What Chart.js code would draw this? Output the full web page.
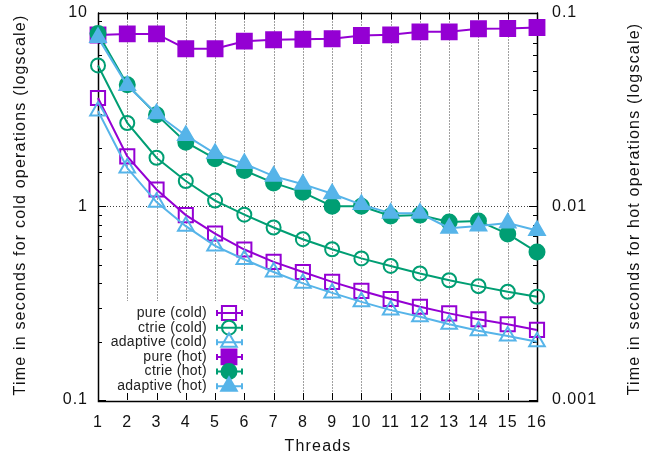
<!DOCTYPE html>
<html>
<head>
<meta charset="utf-8">
<script src="https://cdn.jsdelivr.net/npm/chart.js@4"></script>
<style>
  html, body { margin: 0; padding: 0; background: #fff; }
  #wrap { width: 656px; height: 459px; }
</style>
</head>
<body>
<div id="wrap"><canvas id="myChart" width="656" height="459"></canvas></div>
<script>
// data
const threads = [1, 2, 3, 4, 5, 6, 7, 8, 9, 10, 11, 12, 13, 14, 15, 16];
const pureCold = [3.62, 1.81, 1.22, 0.90, 0.723, 0.598, 0.516, 0.458, 0.407, 0.366, 0.332, 0.303, 0.280, 0.261, 0.246, 0.230];
const ctrieCold = [5.33, 2.69, 1.78, 1.35, 1.07, 0.905, 0.777, 0.676, 0.600, 0.538, 0.492, 0.450, 0.415, 0.387, 0.362, 0.341];
const adaptiveCold = [3.10, 1.575, 1.05, 0.789, 0.624, 0.531, 0.458, 0.400, 0.357, 0.321, 0.291, 0.269, 0.246, 0.228, 0.214, 0.200];
const pureHot = [0.0765, 0.0775, 0.0775, 0.065, 0.065, 0.0711, 0.0723, 0.0728, 0.0732, 0.0761, 0.0767, 0.0795, 0.0795, 0.0824, 0.0827, 0.0837];
const ctrieHot = [0.078, 0.0424, 0.0297, 0.0214, 0.0176, 0.0153, 0.0132, 0.0118, 0.0100, 0.0100, 0.0089, 0.0090, 0.0083, 0.0084, 0.0072, 0.0058];
const adaptiveHot = [0.0742, 0.0420, 0.0300, 0.0232, 0.0187, 0.0166, 0.0143, 0.0130, 0.0116, 0.0102, 0.0092, 0.0092, 0.0077, 0.0079, 0.0082, 0.0075];
const leftTicks = [0.1, 1, 10];
const rightTicks = [0.001, 0.01, 0.1];

const PURPLE = '#9400d3';
const GREEN = '#009e73';
const BLUE = '#56b4e9';
const FONT = 'Liberation Sans, Arial, sans-serif';

const series = [
  {label: 'pure (cold)', data: pureCold, color: PURPLE, style: 'rect', r: 10, filled: false, axis: 'y'},
  {label: 'ctrie (cold)', data: ctrieCold, color: GREEN, style: 'circle', r: 7, filled: false, axis: 'y'},
  {label: 'adaptive (cold)', data: adaptiveCold, color: BLUE, style: 'triangle', r: 9, filled: false, axis: 'y'},
  {label: 'pure (hot)', data: pureHot, color: PURPLE, style: 'rect', r: 10.5, filled: true, axis: 'y2'},
  {label: 'ctrie (hot)', data: ctrieHot, color: GREEN, style: 'circle', r: 7.5, filled: true, axis: 'y2'},
  {label: 'adaptive (hot)', data: adaptiveHot, color: BLUE, style: 'triangle', r: 9, filled: true, axis: 'y2'}
];

function isPow10(v){
  let l = Math.log10(v);
  return Math.abs(l - Math.round(l)) < 1e-9;
}

// marker for the legend, same shapes as chart.js uses
function drawMarker(ctx, s, x, y){
  ctx.save();
  ctx.lineWidth = 2;
  ctx.strokeStyle = s.color;
  ctx.fillStyle = s.filled ? s.color : 'rgba(0,0,0,0)';
  ctx.beginPath();
  if(s.style == 'rect'){
    let h = s.r * Math.SQRT1_2;
    ctx.rect(x - h, y - h, 2*h, 2*h);
  }else if(s.style == 'circle'){
    ctx.arc(x, y, s.r, 0, Math.PI*2);
  }else{
    let a = 0;
    ctx.moveTo(x + Math.sin(a)*s.r, y - Math.cos(a)*s.r);
    a += 2*Math.PI/3;
    ctx.lineTo(x + Math.sin(a)*s.r, y - Math.cos(a)*s.r);
    a += 2*Math.PI/3;
    ctx.lineTo(x + Math.sin(a)*s.r, y - Math.cos(a)*s.r);
    ctx.closePath();
  }
  ctx.fill();
  ctx.stroke();
  ctx.restore();
}

const frame = {
  id: 'frame',
  beforeDraw(chart){
    chart.ctx.letterSpacing = '1px';
  },
  beforeDatasetsDraw(chart){
    const ctx = chart.ctx;
    const a = chart.chartArea;
    const xs = chart.scales.x, ys = chart.scales.y, y2 = chart.scales.y2;
    ctx.save();
    // dotted grid
    ctx.strokeStyle = 'rgba(0,0,0,0.75)';
    ctx.lineWidth = 1;
    ctx.setLineDash([1, 2]);
    ctx.beginPath();
    for(let i=0; i<threads.length; i++){
      let px = Math.round(xs.getPixelForValue(i)) + 0.5;
      ctx.moveTo(px, a.top);
      ctx.lineTo(px, a.bottom);
    }
    let py1 = Math.round(ys.getPixelForValue(1)) + 0.5;
    ctx.moveTo(a.left, py1);
    ctx.lineTo(a.right, py1);
    ctx.stroke();
    ctx.setLineDash([]);

    // legend box (opaque)
    ctx.fillStyle = '#fff';
    ctx.fillRect(a.left + 1, 301, 157, a.bottom - 302);

    // ticks inward
    ctx.strokeStyle = '#000';
    ctx.beginPath();
    ys.ticks.forEach(function(t){
      let py = Math.round(ys.getPixelForValue(t.value)) + 0.5;
      let len = isPow10(t.value) ? 8 : 4;
      ctx.moveTo(a.left, py); ctx.lineTo(a.left + len, py);
    });
    y2.ticks.forEach(function(t){
      let py = Math.round(y2.getPixelForValue(t.value)) + 0.5;
      let len = isPow10(t.value) ? 8 : 4;
      ctx.moveTo(a.right, py); ctx.lineTo(a.right - len, py);
    });
    for(let i=0; i<threads.length; i++){
      let px = Math.round(xs.getPixelForValue(i)) + 0.5;
      ctx.moveTo(px, a.bottom); ctx.lineTo(px, a.bottom - 7);
      ctx.moveTo(px, a.top); ctx.lineTo(px, a.top + 7);
    }
    ctx.stroke();

    // border
    ctx.lineWidth = 1.5;
    ctx.strokeRect(Math.round(a.left) + 0.5, Math.round(a.top) + 0.5, Math.round(a.right - a.left), Math.round(a.bottom - a.top));
    ctx.restore();
  },
  afterDatasetsDraw(chart){
    const ctx = chart.ctx;
    ctx.save();
    // legend entries
    ctx.font = '14px ' + FONT;
    ctx.letterSpacing = '0.3px';
    ctx.fillStyle = '#222';
    ctx.textAlign = 'right';
    ctx.textBaseline = 'middle';
    series.forEach(function(s, i){
      let y = 313 + i * 14.65;
      ctx.fillText(s.label, 207, y);
      ctx.strokeStyle = s.color;
      ctx.lineWidth = 2;
      ctx.beginPath();
      ctx.moveTo(217, y); ctx.lineTo(242, y);
      ctx.moveTo(217, y - 3); ctx.lineTo(217, y + 3);
      ctx.moveTo(242, y - 3); ctx.lineTo(242, y + 3);
      ctx.stroke();
      drawMarker(ctx, s, 229, y);
    });

    // axis titles
    ctx.font = '16px ' + FONT;
    ctx.letterSpacing = '1.2px';
    ctx.fillStyle = '#111';
    ctx.textAlign = 'center';
    ctx.fillText('Threads', 318, 447);
    ctx.save();
    ctx.translate(21, 205);
    ctx.rotate(-Math.PI/2);
    ctx.fillText('Time in seconds for cold operations (logscale)', 0, 0);
    ctx.restore();
    ctx.save();
    ctx.translate(635, 209);
    ctx.rotate(-Math.PI/2);
    ctx.fillText('Time in seconds for hot operations (logscale)', 0, 0);
    ctx.restore();
    ctx.restore();
  }
};

const datasets = series.map(function(s, i){
  return {
    label: s.label,
    data: s.data,
    yAxisID: s.axis,
    borderColor: s.color,
    backgroundColor: s.color,
    borderWidth: 2,
    tension: 0,
    pointStyle: s.style,
    pointRadius: s.r,
    pointHoverRadius: s.r,
    pointBorderWidth: 2,
    pointBorderColor: s.color,
    pointBackgroundColor: s.filled ? s.color : 'rgba(0,0,0,0)',
    clip: false,
    order: series.length - i
  };
});

const tickFont = {family: FONT, size: 16};

// fixed plot box: left 98, right 537, top 12, bottom 400
function fitY(w){
  return function(scale){
    scale.width = w;
    scale.paddingTop = 0;
    scale.paddingBottom = 0;
  };
}

new Chart(document.getElementById('myChart'), {
  type: 'line',
  data: {
    labels: threads.map(String),
    datasets: datasets
  },
  options: {
    responsive: false,
    animation: false,
    devicePixelRatio: 1,
    layout: { padding: {top: 12, left: 0, right: 0, bottom: 0} },
    plugins: {
      legend: { display: false },
      tooltip: { enabled: false }
    },
    scales: {
      x: {
        type: 'category',
        offset: false,
        grid: { display: false, drawTicks: false },
        border: { display: false },
        ticks: { font: tickFont, color: '#111', padding: 13, autoSkip: false, maxRotation: 0 },
        afterFit: function(scale){
          scale.height = 59;
          scale.paddingLeft = 0;
          scale.paddingRight = 0;
        }
      },
      y: {
        type: 'logarithmic',
        position: 'left',
        min: 0.1,
        max: 10,
        grid: { display: false, drawTicks: false },
        border: { display: false },
        ticks: {
          font: tickFont, color: '#111', padding: 10, autoSkip: false,
          callback: function(v){ return leftTicks.indexOf(v) >= 0 || isPow10(v) ? String(Number(v.toPrecision(3))) : ''; }
        },
        afterFit: fitY(98)
      },
      y2: {
        type: 'logarithmic',
        position: 'right',
        min: 0.001,
        max: 0.1,
        grid: { display: false, drawTicks: false },
        border: { display: false },
        ticks: {
          font: tickFont, color: '#111', padding: 15, autoSkip: false,
          callback: function(v){ return rightTicks.indexOf(v) >= 0 || isPow10(v) ? String(Number(v.toPrecision(3))) : ''; }
        },
        afterFit: fitY(119)
      }
    }
  },
  plugins: [frame]
});
</script>
</body>
</html>
